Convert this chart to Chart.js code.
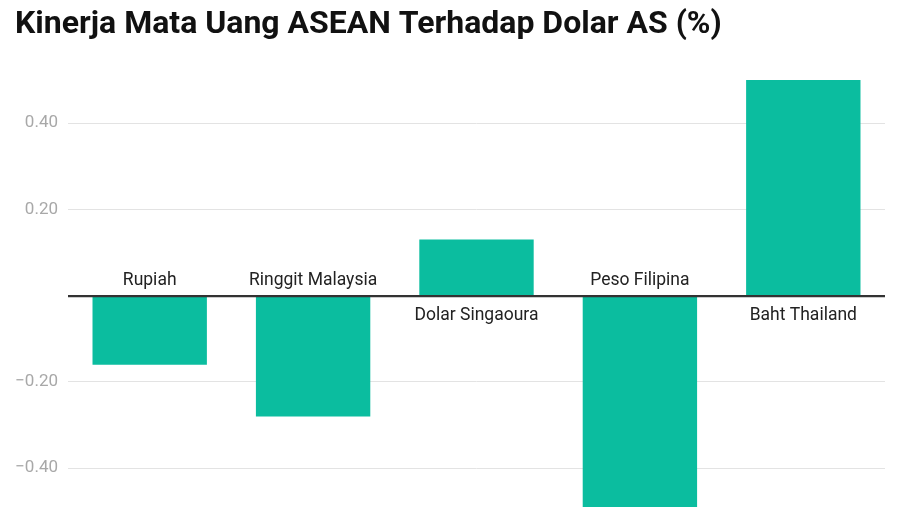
<!DOCTYPE html>
<html>
<head>
<meta charset="utf-8">
<script src="https://cdn.jsdelivr.net/npm/chart.js@4"></script>
<style>
html,body{margin:0;padding:0;background:#fff;}
#wrap{width:900px;height:507px;position:relative;}
</style>
</head>
<body>
<div id="wrap"><canvas id="c" width="900" height="507"></canvas></div>
<script>
const titleText = 'Kinerja Mata Uang ASEAN Terhadap Dolar AS (%)';
const categories = ['Rupiah', 'Ringgit Malaysia', 'Dolar Singaoura', 'Peso Filipina', 'Baht Thailand'];
const values = [-0.16, -0.28, 0.13, -0.50, 0.50];
const tickValues = [-0.4, -0.2, 0, 0.2, 0.4];

const FONT = 'Roboto, "Noto Sans", sans-serif';

const catLabels = {
  id: 'catLabels',
  afterDatasetsDraw(chart) {
    const ctx = chart.ctx;
    const xs = chart.scales.x, ys = chart.scales.y;
    const y0 = ys.getPixelForValue(0);
    ctx.save();
    ctx.font = '17.5px ' + FONT;
    ctx.fillStyle = '#222';
    ctx.textAlign = 'center';
    ctx.textBaseline = 'alphabetic';
    categories.forEach((c, i) => {
      const x = xs.getPixelForValue(i);
      if (values[i] < 0) {
        ctx.fillText(c, x, y0 - 11);
      } else {
        ctx.fillText(c, x, y0 + 24);
      }
    });
    ctx.restore();
  }
};

new Chart(document.getElementById('c'), {
  type: 'bar',
  data: {
    labels: categories,
    datasets: [{
      data: values,
      backgroundColor: '#0bbd9f',
      borderWidth: 0,
      barPercentage: 0.7,
      categoryPercentage: 1.0
    }]
  },
  options: {
    responsive: false,
    animation: false,
    devicePixelRatio: 1,
    layout: { padding: { left: 15, right: 15, top: 0, bottom: 0 } },
    plugins: {
      legend: { display: false },
      tooltip: { enabled: false },
      title: {
        display: true,
        text: titleText,
        align: 'start',
        color: '#111',
        font: { family: FONT, size: 32, weight: 'bold' },
        padding: { top: 6, bottom: 35.6 }
      }
    },
    scales: {
      x: { display: false },
      y: {
        min: -0.49,
        max: 0.5,
        afterBuildTicks(scale) {
          scale.ticks = tickValues.map(v => ({ value: v }));
        },
        afterFit(scale) {
          scale.width = 53;
          scale.paddingTop = 0;
          scale.paddingBottom = 0;
        },
        border: { display: false },
        grid: {
          drawTicks: false,
          color: ctx => (ctx.tick && ctx.tick.value === 0) ? '#333' : '#e3e3e3',
          lineWidth: ctx => (ctx.tick && ctx.tick.value === 0) ? 1.5 : 1,
          z: 0
        },
        ticks: {
          padding: 10,
          color: '#a8a8a8',
          font: { family: FONT, size: 17 },
          callback: v => {
            if (Math.abs(v) < 1e-9) return '';
            return (v < 0 ? '\u2212' : '') + Math.abs(v).toFixed(2);
          }
        }
      }
    }
  },
  plugins: [catLabels, {
    id: 'zeroLine',
    afterDatasetsDraw(chart) {
      const ys = chart.scales.y, a = chart.chartArea, ctx = chart.ctx;
      const y0 = Math.round(ys.getPixelForValue(0)) + 0.5;
      ctx.save();
      ctx.strokeStyle = '#333';
      ctx.lineWidth = 1.5;
      ctx.beginPath();
      ctx.moveTo(a.left, y0);
      ctx.lineTo(a.right, y0);
      ctx.stroke();
      ctx.restore();
    }
  }]
});
</script>
</body>
</html>
